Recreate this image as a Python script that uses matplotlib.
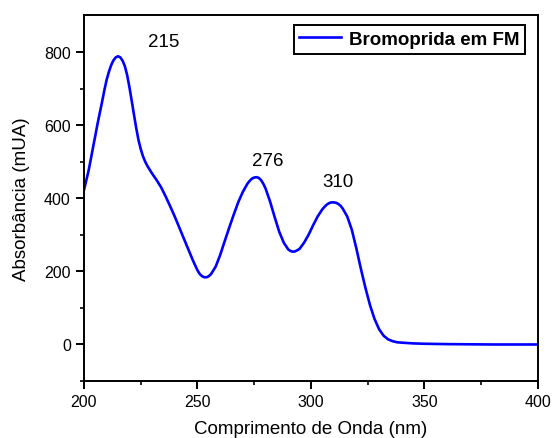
import matplotlib.pyplot as plt
import numpy as np

plt.rcParams['font.family'] = ['Liberation Sans', 'DejaVu Sans']

comprimento = [200, 201, 202, 203, 204, 205, 206, 207, 208, 209, 210, 211, 212, 213,
               214, 215, 216, 217, 218, 219, 220, 221, 222, 223, 224, 225, 226, 227,
               228, 230, 232, 234, 236, 238, 240, 242, 244, 246, 248, 250, 251, 252,
               253, 254, 255, 256, 258, 260, 262, 264, 266, 268, 270, 272, 273, 274,
               275, 276, 277, 278, 279, 280, 282, 284, 286, 288, 290, 291, 292, 293,
               294, 295, 297, 299, 301, 303, 305, 306, 307, 308, 309, 310, 311, 312,
               313, 314, 316, 318, 320, 322, 324, 326, 328, 330, 332, 334, 336, 338,
               340, 345, 350, 360, 380, 400]
absorbancia = [423, 449, 475, 507, 540, 572, 605, 635, 665, 697, 725, 747, 765, 778,
               786, 789, 786, 777, 762, 738, 705, 668, 630, 593, 560, 535, 515, 500,
               488, 468, 450, 430, 405, 378, 350, 320, 290, 260, 230, 203, 193, 187,
               184, 184, 187, 193, 213, 245, 283, 320, 356, 390, 418, 440, 448, 454,
               457, 458, 456, 450, 440, 427, 391, 349, 309, 279, 260, 256, 254, 255,
               258, 262, 279, 301, 327, 351, 370, 377, 383, 387, 389, 389, 388, 385,
               380, 372, 350, 314, 263, 207, 155, 108, 70, 42, 24, 14, 9, 6,
               5, 3, 2, 1, 0, 0]

picos = ["215", "276", "310"]
picos_x = [235, 281, 312]
picos_y = [830, 503, 446]

fig = plt.figure(figsize=(5.54, 4.39), dpi=100)
ax = fig.add_axes([0.1516, 0.1298, 0.8194, 0.8338])

ax.plot(comprimento, absorbancia, color='#0000ff', lw=1.9, solid_joinstyle='round',
        label='Bromoprida em FM')

for t, px, py in zip(picos, picos_x, picos_y):
    ax.text(px, py, t, ha='center', va='center', fontsize=13.5)

ax.set_xlim(200, 400)
ax.set_ylim(-97, 902)
ax.set_xticks([200, 250, 300, 350, 400])
ax.set_xticks([225, 275, 325, 375], minor=True)
ax.set_yticks([0, 200, 400, 600, 800])
ax.set_yticks([-100, 100, 300, 500, 700], minor=True)

for s in ax.spines.values():
    s.set_linewidth(1.4)
ax.tick_params(which='major', length=6, width=1.4, labelsize=11.5)
ax.tick_params(which='minor', length=3, width=1.2)

ax.set_xlabel('Comprimento de Onda (nm)', fontsize=13.5, labelpad=7.5)
ax.set_ylabel('Absorbância (mUA)', fontsize=13.5, labelpad=10)

leg = ax.legend(loc='upper right', bbox_to_anchor=(0.972, 0.972), fancybox=False,
                edgecolor='black', framealpha=1, handlelength=2.2,
                prop={'weight': 'bold', 'size': 13.5}, borderpad=0.3,
                handletextpad=0.45, borderaxespad=0)
leg.get_frame().set_linewidth(1.4)

plt.savefig('out.png', dpi=100)
